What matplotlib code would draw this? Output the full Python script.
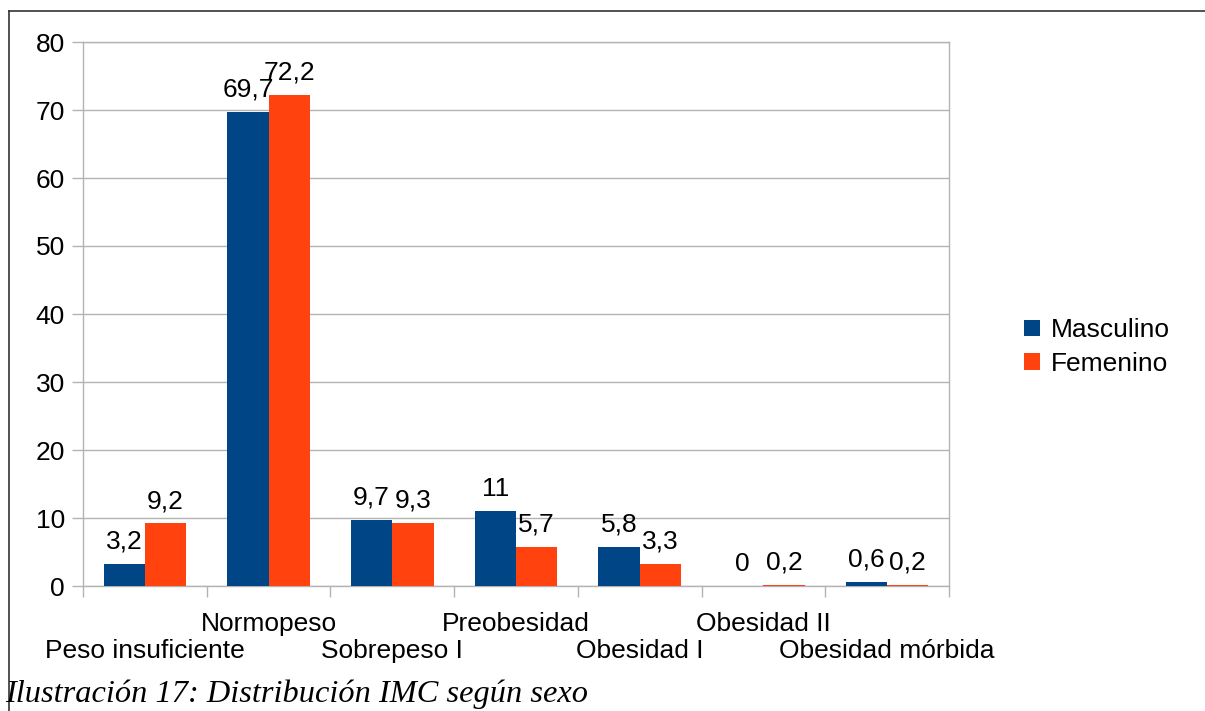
import numpy as np
import matplotlib.pyplot as plt

# Distribucion del IMC segun sexo (%)
categorias = ['Peso insuficiente', 'Normopeso', 'Sobrepeso I', 'Preobesidad',
              'Obesidad I', 'Obesidad II', 'Obesidad mórbida']
masculino = [3.2, 69.7, 9.7, 11, 5.8, 0, 0.6]
femenino = [9.2, 72.2, 9.3, 5.7, 3.3, 0.2, 0.2]
series = ['Masculino', 'Femenino']
yticks = [0, 10, 20, 30, 40, 50, 60, 70, 80]

azul = '#004586'
naranja = '#ff420e'
gris = '#b3b3b3'

plt.rcParams['font.family'] = ['Liberation Sans', 'DejaVu Sans']

fig = plt.figure(figsize=(12.05, 7.11), dpi=100)
ax = fig.add_axes([83/1205, 125/711, 866/1205, 544/711])

x = np.arange(len(categorias)) + 0.5
w = 0.334
b1 = ax.bar(x - w/2, masculino, w, color=azul, label=series[0], zorder=3)
b2 = ax.bar(x + w/2, femenino, w, color=naranja, label=series[1], zorder=3)

# etiquetas de valor con coma decimal
for barras, vals in ((b1, masculino), (b2, femenino)):
    for r, v in zip(barras, vals):
        txt = ('%g' % v).replace('.', ',')
        ax.annotate(txt, (r.get_x() + r.get_width()/2, v), xytext=(0, 7.5),
                    textcoords='offset points', ha='center', va='bottom',
                    fontsize=19, color='black', zorder=4)

ax.set_xlim(0, len(categorias))
ax.set_ylim(0, 80)
ax.set_yticks(yticks)
ax.tick_params(axis='y', length=8, width=1, color=gris, pad=5, labelsize=19)
ax.yaxis.grid(True, color=gris, linewidth=1, zorder=0)

# etiquetas de categoria escalonadas en dos filas
etiquetas = [c if i % 2 else '\n' + c for i, c in enumerate(categorias)]
ax.set_xticks(x)
ax.set_xticklabels(etiquetas, fontsize=19, linespacing=1.18)
ax.tick_params(axis='x', which='major', length=0, pad=18.5)
ax.set_xticks(np.arange(len(categorias) + 1), minor=True)
ax.tick_params(axis='x', which='minor', length=8, width=1, color=gris)

for s in ax.spines.values():
    s.set_color(gris)
    s.set_linewidth(1)

ax.legend(loc='center left', bbox_to_anchor=((1024 - 83)/866, (711 - 347 - 125)/544),
          frameon=False, fontsize=19, handlelength=0.6, handleheight=0.6,
          handletextpad=0.4, labelspacing=0.35, borderaxespad=0, borderpad=0)

# marco de la figura (solo arriba e izquierda)
fig.add_artist(plt.Line2D([8.5/1205, 8.5/1205], [0, 1 - 10.5/711], color='#333333', lw=1.2))
fig.add_artist(plt.Line2D([8.5/1205, 1], [1 - 10.5/711, 1 - 10.5/711], color='#333333', lw=1.2))

fig.text(5/1205, 9/711, 'Ilustración 17: Distribución IMC según sexo',
         family=['Liberation Serif', 'DejaVu Serif'], style='italic',
         fontsize=23.3, ha='left', va='baseline')

fig.savefig('out.png', dpi=100)
